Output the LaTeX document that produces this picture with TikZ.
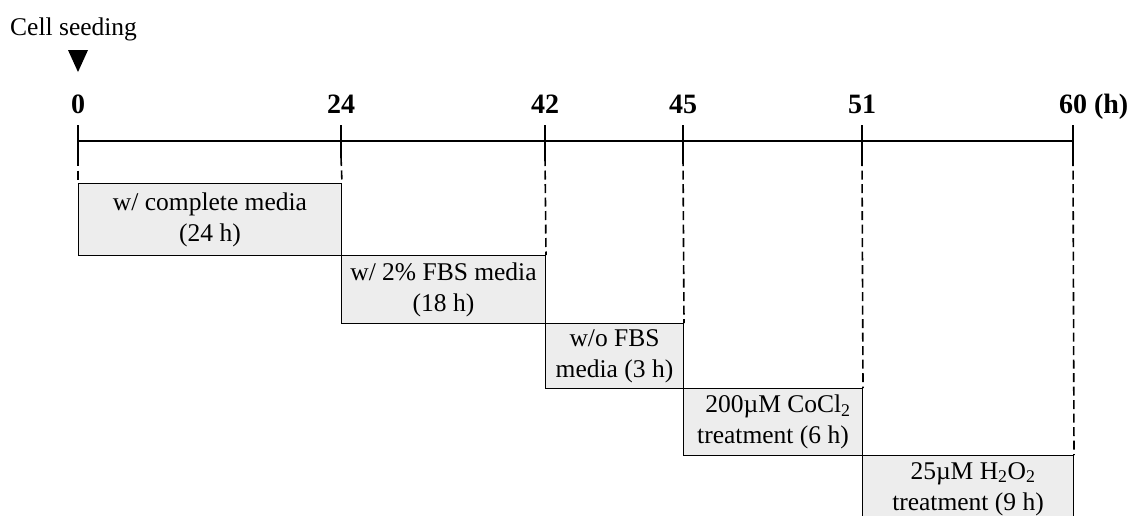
\documentclass[tikz,border=0pt]{standalone}
\usepackage{fontspec}
\setmainfont{Liberation Serif}
\begin{document}
\begin{tikzpicture}[x=1pt,y=-1pt,
  txt/.style={font=\fontsize{25.5}{31}\selectfont, inner sep=0pt},
  num/.style={font=\fontsize{28}{30}\selectfont\bfseries, inner sep=0pt, anchor=base},
  box/.style={draw=black, line width=1pt, fill=black!7, anchor=north west, inner sep=0pt,
    font=\fontsize{25.5}{31}\selectfont, align=center},
  axis/.style={line width=1.8pt},
  tick/.style={line width=1.6pt},
  dline/.style={line width=1.6pt, dash pattern=on 9pt off 4.5pt}]
\clip (0,0) rectangle (1132,515);
\fill[white] (0,0) rectangle (1132,515);
% tick coordinates
\foreach \n/\x in {t0/78,t24/341,t42/545,t45/683,t51/862,t60/1073}{
  \coordinate (\n) at (\x,141);
  \coordinate (\n-top) at (\x,125);
  \coordinate (\n-mid) at (\x,157);
}
% labels
\node[txt, anchor=base west] (cell) at (10,35) {Cell seeding};
\fill (68,50) -- (88,50) -- (78,72) -- cycle;
\node[num] (n0) at (78,113) {0};
\node[num] (n24) at (341,113) {24};
\node[num] (n42) at (545,113) {42};
\node[num] (n45) at (683,113) {45};
\node[num] (n51) at (862,113) {51};
\node[num] (n60) at (1073,113) {60\rlap{ (h)}};
% boxes
\node[box, minimum width=263pt, minimum height=72pt] (b1) at (78,183) {w/ complete media\\(24 h)};
\node[box, minimum width=204pt, minimum height=68pt] (b2) at (341,255) {w/ 2\% FBS media\\(18 h)};
\node[box, minimum width=138pt, minimum height=65pt] (b3) at (545,323) {w/o FBS\\media (3 h)};
\node[box, minimum width=179pt, minimum height=67pt] (b4) at (683,388) {\hspace{10pt}200µM CoCl\textsubscript{2}\\treatment (6 h)};
\node[box, minimum width=211pt, minimum height=67pt] (b5) at (862,455) {\hspace{10pt}25µM H\textsubscript{2}O\textsubscript{2}\\treatment (9 h)};
% axis
\draw[axis] (t0) -- (t60);
\foreach \n in {t0,t24,t42,t45,t51,t60}{
  \draw[tick] (\n-top) -- (\n-mid);
}
\draw[dline] (t0-mid) -- (b1.north west);
\draw[dline] (t24-mid) -- (b1.north east);
\draw[dline] (t42-mid) -- (b2.north east);
\draw[dline] (t45-mid) -- (b3.north east);
\draw[dline] (t51-mid) -- (b4.north east);
\draw[dline] (t60-mid) -- (b5.north east);
\end{tikzpicture}
\end{document}
